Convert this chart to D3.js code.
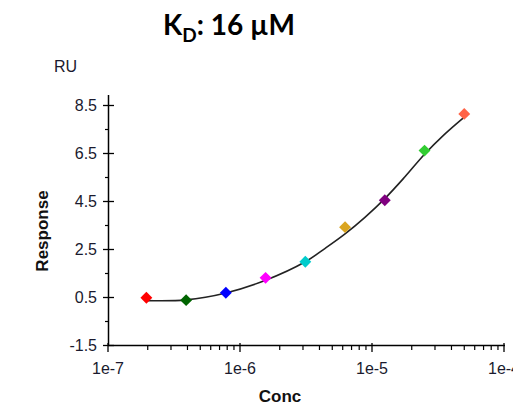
<!DOCTYPE html>
<html>
<head>
<meta charset="utf-8">
<script src="https://cdn.jsdelivr.net/npm/d3@7"></script>
<style>
  html, body { margin: 0; padding: 0; background: #fff; }
  svg { display: block; }
</style>
</head>
<body>
<svg id="chart" width="513" height="406"></svg>
<script>
// ---- data ----
const concentrations = [1.953e-7, 3.906e-7, 7.8125e-7, 1.5625e-6, 3.125e-6, 6.25e-6, 1.25e-5, 2.5e-5, 5e-5];
const responses      = [0.49, 0.39, 0.70, 1.32, 1.99, 3.43, 4.55, 6.62, 8.15];
const pointColors    = ["#ff0000", "#006400", "#0000ff", "#ff00ff", "#00cccc", "#daa520", "#800080", "#32cd32", "#ff6347"];
// fitted curve
const fitConc        = [1.953e-7, 3.906e-7, 7.8125e-7, 1.5625e-6, 3.125e-6, 4.42e-6, 6.25e-6, 8.84e-6, 1.25e-5, 1.77e-5, 2.5e-5, 3.54e-5, 5e-5];
const fitResponse    = [0.37, 0.40, 0.69, 1.22, 1.99, 2.55, 3.15, 3.84, 4.62, 5.52, 6.47, 7.30, 8.02];
const yTicks         = [-1.5, 0.5, 2.5, 4.5, 6.5, 8.5];
const yTickLabels    = ["-1.5", "0.5", "2.5", "4.5", "6.5", "8.5"];
const yMinorTicks    = [-0.5, 1.5, 3.5, 5.5, 7.5];
const xTicks         = [1e-7, 1e-6, 1e-5, 1e-4];
const xTickLabels    = ["1e-7", "1e-6", "1e-5", "1e-4"];

const svg = d3.select("#chart");
const x = d3.scaleLog().domain([1e-7, 1e-4]).range([108, 504]);
const y = d3.scaleLinear().domain([-1.5, 8.5]).range([345.5, 105.5]);

const tickFont = "'Liberation Sans', Arial, sans-serif";
const textColor = "#1a1a2e";

// Title
const title = svg.append("text")
  .attr("x", 163).attr("y", 35)
  .attr("font-family", "Lato, 'Open Sans', sans-serif")
  .attr("font-weight", "bold")
  .attr("font-size", 28)
  .attr("fill", "#000");
title.append("tspan").text("K");
title.append("tspan").attr("font-size", 19).attr("dy", 7).text("D");
title.append("tspan").attr("dy", -7).text(": 16 µM");

// RU label
svg.append("text").attr("x", 54).attr("y", 72)
  .attr("font-family", tickFont).attr("font-size", 16).attr("fill", textColor)
  .text("RU");

// Y axis
const gy = svg.append("g").attr("class", "y-axis");
gy.append("line").attr("x1", 108.5).attr("x2", 108.5).attr("y1", 95).attr("y2", 346)
  .attr("stroke", "#000").attr("stroke-width", 1.5);
gy.selectAll(".ymaj").data(yTicks).join("line")
  .attr("x1", 103).attr("x2", 114)
  .attr("y1", d => y(d)).attr("y2", d => y(d))
  .attr("stroke", "#000").attr("stroke-width", 1.3);
gy.selectAll(".ymin").data(yMinorTicks).join("line")
  .attr("x1", 105).attr("x2", 109)
  .attr("y1", d => y(d)).attr("y2", d => y(d))
  .attr("stroke", "#000").attr("stroke-width", 1.2);
gy.selectAll(".ylab").data(yTicks).join("text")
  .attr("x", 97).attr("y", d => y(d)).attr("dy", "0.36em")
  .attr("text-anchor", "end")
  .attr("font-family", tickFont).attr("font-size", 16).attr("fill", textColor)
  .text((d, i) => yTickLabels[i]);

// X axis
const gx = svg.append("g").attr("class", "x-axis");
gx.append("line").attr("x1", 108).attr("x2", 505).attr("y1", 345.5).attr("y2", 345.5)
  .attr("stroke", "#000").attr("stroke-width", 1.5);
gx.selectAll(".xmaj").data(xTicks).join("line")
  .attr("x1", d => x(d)).attr("x2", d => x(d))
  .attr("y1", 343).attr("y2", 352)
  .attr("stroke", "#000").attr("stroke-width", 1.3);
const minor = x.ticks().filter(t => !xTicks.some(m => Math.abs(m - t) / m < 1e-6));
gx.selectAll(".xmin").data(minor).join("line")
  .attr("x1", d => x(d)).attr("x2", d => x(d))
  .attr("y1", 346).attr("y2", 350)
  .attr("stroke", "#000").attr("stroke-width", 1.2);
gx.selectAll(".xlab").data(xTicks).join("text")
  .attr("x", d => x(d)).attr("y", 374)
  .attr("text-anchor", "middle")
  .attr("font-family", tickFont).attr("font-size", 16).attr("fill", textColor)
  .text((d, i) => xTickLabels[i]);

// Axis titles
svg.append("text").attr("x", 280).attr("y", 402)
  .attr("text-anchor", "middle")
  .attr("font-family", tickFont).attr("font-weight", "bold").attr("font-size", 17).attr("fill", "#111")
  .text("Conc");
svg.append("text")
  .attr("transform", "translate(48,231) rotate(-90)")
  .attr("text-anchor", "middle")
  .attr("font-family", tickFont).attr("font-weight", "bold").attr("font-size", 17).attr("fill", "#111")
  .text("Response");

// Fit curve
const fitData = fitConc.map((c, i) => [c, fitResponse[i]]);
const line = d3.line().x(d => x(d[0])).y(d => y(d[1])).curve(d3.curveCatmullRom.alpha(0.5));
svg.append("path").datum(fitData)
  .attr("d", line).attr("fill", "none")
  .attr("stroke", "#222").attr("stroke-width", 1.6);

// Points
const pts = concentrations.map((c, i) => ({c, r: responses[i], col: pointColors[i]}));
svg.selectAll(".pt").data(pts).join("path")
  .attr("transform", d => `translate(${x(d.c)},${y(d.r)})`)
  .attr("d", d3.symbol(d3.symbolDiamond2, 90))
  .attr("fill", d => d.col);
</script>
</body>
</html>
